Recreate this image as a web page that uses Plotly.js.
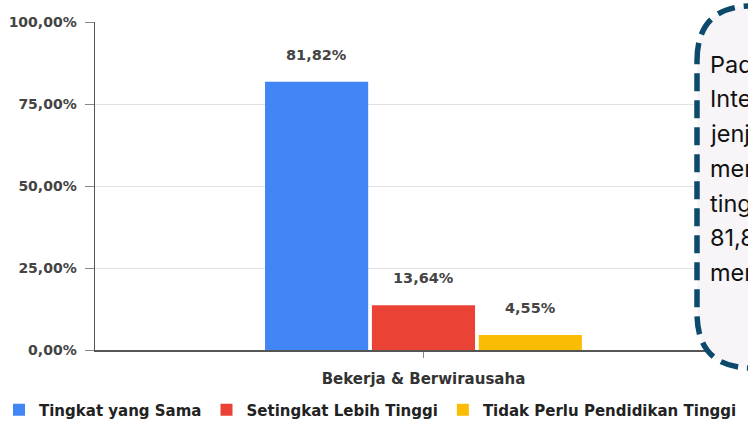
<!DOCTYPE html>
<html>
<head>
<meta charset="utf-8">
<script src="https://cdn.plot.ly/plotly-3.0.1.min.js"></script>
<style>html,body{margin:0;padding:0;background:#fff;overflow:hidden}#chart{width:748px;height:421px}</style>
</head>
<body>
<div id="chart"></div>
<script>
const categories = ['Bekerja & Berwirausaha'];
const seriesNames = ['Tingkat yang Sama', 'Setingkat Lebih Tinggi', 'Tidak Perlu Pendidikan Tinggi'];
const seriesValues = [81.82, 13.64, 4.55];
const seriesColors = ['#4285f4', '#ea4335', '#fbbc04'];
const yTickVals = [0, 25, 50, 75, 100];
const yTickText = ['0,00%', '25,00%', '50,00%', '75,00%', '100,00%'];
const noteLines = ['Pada', 'Internasional', 'jenjang', 'memiliki', 'tingkat', '81,82%', 'merasa'];

const W = 748, H = 421;
const M = {l: 95, r: 0, t: 22, b: 71};
const plotW = W - M.l - M.r, plotH = H - M.t - M.b;
const px = x => (x - M.l) / plotW;
const py = y => (H - M.b - y) / plotH;
const BARGAP = 0.512, GROUPGAP = 0.035;
const FONT = 'DejaVu Sans';

const fmt = v => v.toFixed(2).replace('.', ',') + '%';

const traces = seriesNames.map((name, i) => ({
  type: 'bar',
  name: name,
  x: categories,
  y: [seriesValues[i]],
  marker: {color: seriesColors[i], line: {width: 0}},
  hoverinfo: 'none'
}));

const n = seriesNames.length;
const slot = (1 - BARGAP) / n;
const annotations = seriesValues.map((v, i) => ({
  xref: 'x', yref: 'y',
  x: (i - (n - 1) / 2) * slot,
  y: v,
  yshift: 27,
  text: fmt(v),
  showarrow: false,
  xanchor: 'center', yanchor: 'middle',
  font: {family: FONT, size: 14.5, color: '#444', weight: 'bold'}
}));

// note box (right side, partly outside the view)
const L = 697, T = 6, B = 368, R = 830, rad = 55;
const P = (x, y) => px(x).toFixed(5) + ',' + py(y).toFixed(5);
const boxPath = 'M' + P(L, T + rad) + ' Q' + P(L, T) + ' ' + P(L + rad, T) +
  ' L' + P(R, T) + ' L' + P(R, B) + ' L' + P(L + rad, B) +
  ' Q' + P(L, B) + ' ' + P(L, B - rad) + ' Z';

noteLines.forEach((t, i) => {
  annotations.push({
    xref: 'paper', yref: 'paper',
    x: px(708), y: py(64 + i * 34.8),
    xanchor: 'left', yanchor: 'middle',
    text: t, showarrow: false,
    font: {family: 'Inter', size: 23.5, color: '#111'}
  });
});

const layout = {
  width: W, height: H,
  margin: {l: M.l, r: M.r, t: M.t, b: M.b, pad: 0, autoexpand: false},
  paper_bgcolor: '#ffffff', plot_bgcolor: '#ffffff',
  barmode: 'group', bargap: BARGAP, bargroupgap: GROUPGAP,
  showlegend: true,
  legend: {
    orientation: 'h', x: px(-1), xanchor: 'left', y: py(410), yanchor: 'middle',
    font: {family: FONT, size: 15, color: '#222', weight: 'bold'},
    bgcolor: 'rgba(0,0,0,0)', itemclick: false, itemdoubleclick: false
  },
  xaxis: {
    type: 'category', range: [-0.5, 0.494], fixedrange: true, automargin: false,
    showline: true, linecolor: '#555', linewidth: 1.5,
    ticks: 'outside', ticklen: 6, tickcolor: '#888', tickwidth: 1,
    showgrid: false, zeroline: false,
    tickfont: {family: FONT, size: 15, color: '#333', weight: 'bold'},
    ticklabelstandoff: 8
  },
  yaxis: {
    range: [0, 100], fixedrange: true, automargin: false,
    tickvals: yTickVals, ticktext: yTickText,
    showline: true, linecolor: '#555', linewidth: 1.5,
    ticks: 'outside', ticklen: 9, tickcolor: '#888', tickwidth: 1,
    showgrid: true, gridcolor: '#e2e2e2', gridwidth: 1, zeroline: false,
    tickfont: {family: FONT, size: 14, color: '#444', weight: 'bold'},
    ticklabelstandoff: 5
  },
  shapes: [{
    type: 'path', xref: 'paper', yref: 'paper', layer: 'above',
    path: boxPath,
    fillcolor: '#f7f5f8',
    line: {color: '#0c4a6b', width: 5.5, dash: '18px,9px'}
  }],
  annotations: annotations
};

Plotly.newPlot('chart', traces, layout, {displayModeBar: false, staticPlot: true});
</script>
</body>
</html>
